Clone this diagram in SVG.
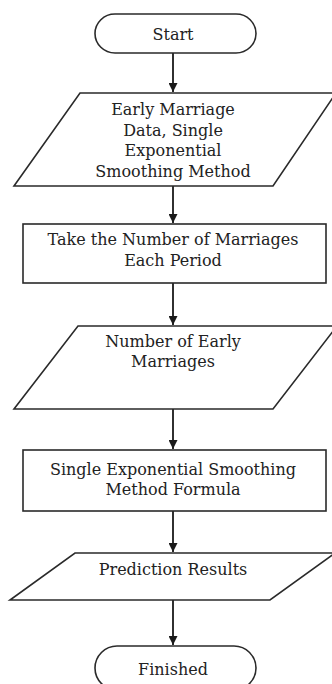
<svg xmlns="http://www.w3.org/2000/svg" width="332" height="684" viewBox="0 0 332 684">
<style>
.s{fill:#fff;stroke:#2a2a2a;stroke-width:1.6}
.t{font-family:"DejaVu Serif","Liberation Serif",serif;font-size:16px;fill:#222;text-anchor:middle}
.c{stroke:#1a1a1a;stroke-width:1.8;fill:none}
</style>
<defs>
<marker id="ah" viewBox="0 0 10 10" refX="10" refY="5" markerWidth="5" markerHeight="5" orient="auto" markerUnits="strokeWidth">
<path d="M0,0 L10,5 L0,10 z" fill="#1a1a1a"/>
</marker>
</defs>
<rect width="332" height="684" fill="#fff"/>
<g id="connectors">
<line class="c" x1="173" y1="53" x2="173" y2="92" marker-end="url(#ah)"/>
<line class="c" x1="173" y1="186" x2="173" y2="223" marker-end="url(#ah)"/>
<line class="c" x1="173" y1="283" x2="173" y2="325" marker-end="url(#ah)"/>
<line class="c" x1="173" y1="409" x2="173" y2="449" marker-end="url(#ah)"/>
<line class="c" x1="173" y1="511" x2="173" y2="552" marker-end="url(#ah)"/>
<line class="c" x1="173" y1="600" x2="173" y2="645" marker-end="url(#ah)"/>
</g>
<g id="start">
<rect class="s" x="95" y="14" width="161" height="39" rx="20" ry="19.5"/>
<text class="t" x="173" y="40">Start</text>
</g>
<g id="input-data">
<polygon class="s" points="80,93 336,93 273,186 14,186"/>
<text class="t" x="173" y="115">Early Marriage</text>
<text class="t" x="173" y="136">Data, Single</text>
<text class="t" x="173" y="156">Exponential</text>
<text class="t" x="173" y="177">Smoothing Method</text>
</g>
<g id="take-number">
<rect class="s" x="23" y="224" width="303" height="59"/>
<text class="t" x="173" y="245">Take the Number of Marriages</text>
<text class="t" x="173" y="266">Each Period</text>
</g>
<g id="number-early">
<polygon class="s" points="78,326 337,326 273,409 14,409"/>
<text class="t" x="173" y="347">Number of Early</text>
<text class="t" x="173" y="367">Marriages</text>
</g>
<g id="formula">
<rect class="s" x="23" y="450" width="303" height="61"/>
<text class="t" x="173" y="475">Single Exponential Smoothing</text>
<text class="t" x="173" y="495">Method Formula</text>
</g>
<g id="prediction">
<polygon class="s" points="75,553 335,553 270,600 10,600"/>
<text class="t" x="173" y="575">Prediction Results</text>
</g>
<g id="finished">
<rect class="s" x="95" y="646" width="161" height="44" rx="22" ry="22"/>
<text class="t" x="173" y="675">Finished</text>
</g>
</svg>
